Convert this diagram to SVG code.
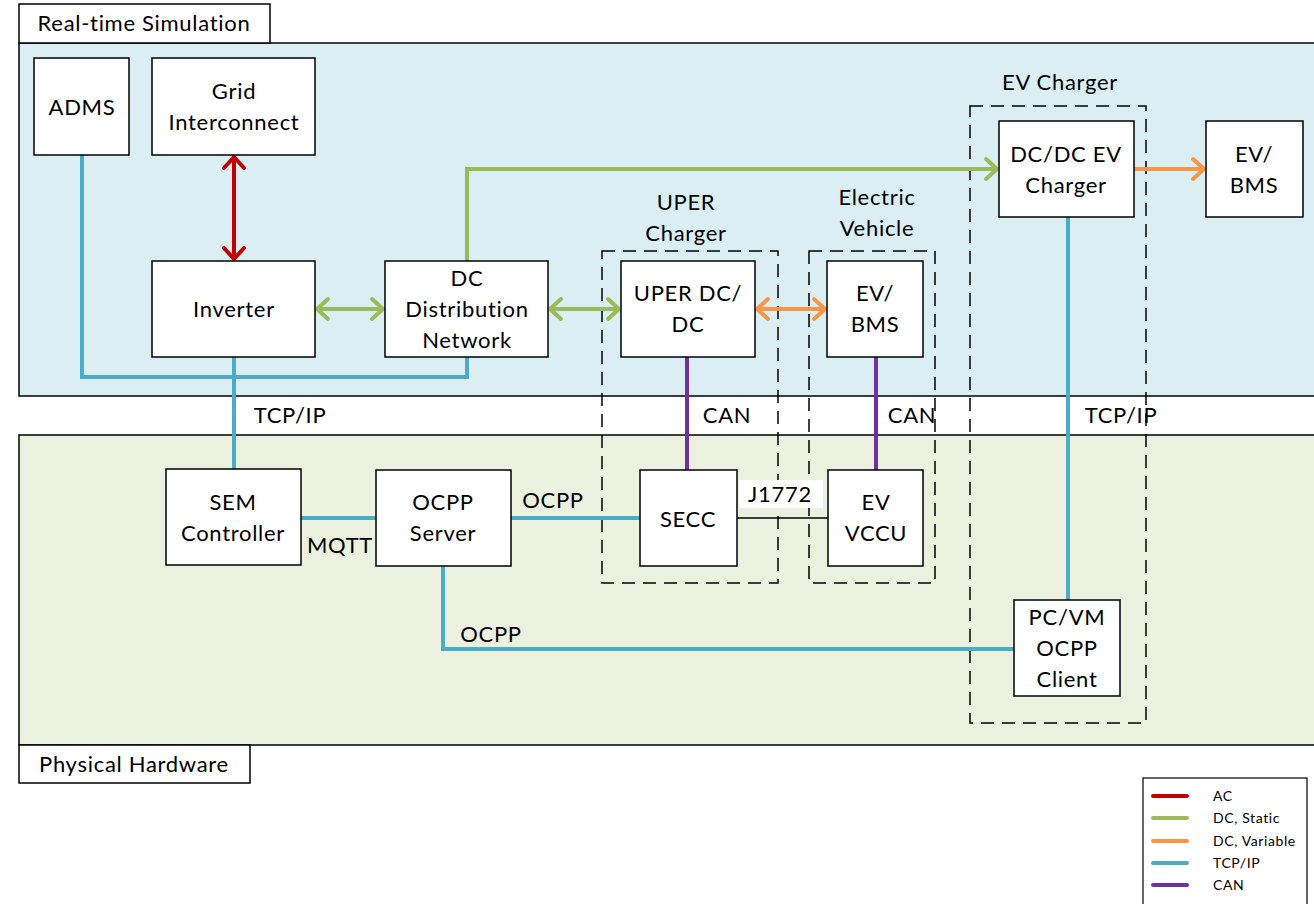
<svg xmlns="http://www.w3.org/2000/svg" width="1314" height="904" viewBox="0 0 1314 904">
<defs>
<style>
text{font-family:Lato,"Open Sans","Liberation Sans",sans-serif;font-size:22px;letter-spacing:0.7px;fill:#000;text-anchor:middle}
.box{fill:#fff;stroke:#000;stroke-width:1.5}
.grp{fill:none;stroke:#000;stroke-width:1.5;stroke-dasharray:13 8}
.ac{stroke:#C00000;stroke-width:4;fill:none}
.dcs{stroke:#9BBB59;stroke-width:4;fill:none}
.dcv{stroke:#F79646;stroke-width:4;fill:none}
.tcp{stroke:#4BACC6;stroke-width:4;fill:none}
.can{stroke:#7030A0;stroke-width:4;fill:none}
text.lg{font-size:14px;letter-spacing:0.6px;text-anchor:start}
</style>
<marker id="mr" markerUnits="userSpaceOnUse" markerWidth="30" markerHeight="30" viewBox="-15 -15 30 30" refX="0" refY="0" orient="auto-start-reverse"><path d="M-11,-10 L0,0 L-11,10" fill="none" stroke="#C00000" stroke-width="4" stroke-linecap="round" stroke-linejoin="round"/></marker>
<marker id="mg" markerUnits="userSpaceOnUse" markerWidth="30" markerHeight="30" viewBox="-15 -15 30 30" refX="0" refY="0" orient="auto-start-reverse"><path d="M-11,-10 L0,0 L-11,10" fill="none" stroke="#9BBB59" stroke-width="4" stroke-linecap="round" stroke-linejoin="round"/></marker>
<marker id="mo" markerUnits="userSpaceOnUse" markerWidth="30" markerHeight="30" viewBox="-15 -15 30 30" refX="0" refY="0" orient="auto-start-reverse"><path d="M-11,-10 L0,0 L-11,10" fill="none" stroke="#F79646" stroke-width="4" stroke-linecap="round" stroke-linejoin="round"/></marker>
</defs>
<rect width="1314" height="904" fill="#fff"/>
<!-- panels -->
<g id="panel-sim">
<rect x="19" y="43" width="1300" height="353" fill="#DAEEF3" stroke="#000" stroke-width="1.5"/>
<rect x="19" y="4" width="251" height="39" fill="#fff" stroke="#000" stroke-width="1.5"/>
<text x="144" y="31">Real-time Simulation</text>
</g>
<g id="panel-hw">
<rect x="19" y="435" width="1300" height="310" fill="#EBF1DE" stroke="#000" stroke-width="1.5"/>
<rect x="19" y="745" width="231" height="38" fill="#fff" stroke="#000" stroke-width="1.5"/>
<text x="134" y="772">Physical Hardware</text>
</g>
<!-- dashed groups -->
<g id="grp-uper"><rect class="grp" x="602" y="251" width="176" height="332"/><text x="686" y="210">UPER</text><text x="686" y="241">Charger</text></g>
<g id="grp-ev"><rect class="grp" x="809" y="251" width="126" height="332"/><text x="877" y="205">Electric</text><text x="877" y="236">Vehicle</text></g>
<g id="grp-evc"><rect class="grp" x="970" y="106" width="176" height="617"/><text x="1060" y="90">EV Charger</text></g>
<!-- connectors -->
<g id="connectors">
<line class="ac" x1="234" y1="157" x2="234" y2="259" marker-start="url(#mr)" marker-end="url(#mr)"/>
<line class="dcs" x1="317" y1="309" x2="383" y2="309" marker-start="url(#mg)" marker-end="url(#mg)"/>
<line class="dcs" x1="550" y1="309" x2="619" y2="309" marker-start="url(#mg)" marker-end="url(#mg)"/>
<polyline class="dcs" points="467,261 467,169 997,169" marker-end="url(#mg)"/>
<line class="dcv" x1="757" y1="309" x2="825" y2="309" marker-start="url(#mo)" marker-end="url(#mo)"/>
<line class="dcv" x1="1134" y1="169" x2="1204" y2="169" marker-end="url(#mo)"/>
<polyline class="tcp" points="82,155 82,377 467,377 467,357"/>
<line class="tcp" x1="234" y1="357" x2="234" y2="469"/>
<line class="tcp" x1="1068" y1="217" x2="1068" y2="600"/>
<line class="tcp" x1="301" y1="518" x2="376" y2="518"/>
<line class="tcp" x1="511" y1="518" x2="640" y2="518"/>
<polyline class="tcp" points="443,566 443,649 1014,649"/>
<line class="can" x1="687" y1="357" x2="687" y2="470"/>
<line class="can" x1="876" y1="357" x2="876" y2="470"/>
<line x1="737" y1="518" x2="828" y2="518" stroke="#000" stroke-width="1.5"/>
<rect x="739" y="480" width="84" height="28" fill="#fff"/>
<text x="780" y="502">J1772</text>
<text x="290" y="423">TCP/IP</text>
<text x="1121" y="423">TCP/IP</text>
<text x="727" y="423">CAN</text>
<text x="912" y="423">CAN</text>
<text x="340" y="553">MQTT</text>
<text x="553" y="508">OCPP</text>
<text x="491" y="642">OCPP</text>
</g>
<!-- nodes -->
<g id="n-adms"><rect class="box" x="34" y="58" width="95" height="97"/><text x="82" y="115">ADMS</text></g>
<g id="n-grid"><rect class="box" x="152" y="58" width="163" height="97"/><text x="234" y="99">Grid</text><text x="234" y="130">Interconnect</text></g>
<g id="n-inv"><rect class="box" x="152" y="261" width="163" height="96"/><text x="234" y="317">Inverter</text></g>
<g id="n-dcdn"><rect class="box" x="385" y="261" width="163" height="96"/><text x="467" y="286">DC</text><text x="467" y="317">Distribution</text><text x="467" y="348">Network</text></g>
<g id="n-uper"><rect class="box" x="621" y="261" width="134" height="96"/><text x="688" y="301">UPER DC/</text><text x="688" y="332">DC</text></g>
<g id="n-evbms1"><rect class="box" x="827" y="261" width="96" height="96"/><text x="875" y="301">EV/</text><text x="875" y="332">BMS</text></g>
<g id="n-dcdcev"><rect class="box" x="999" y="121" width="135" height="96"/><text x="1066" y="162">DC/DC EV</text><text x="1066" y="193">Charger</text></g>
<g id="n-evbms2"><rect class="box" x="1206" y="121" width="97" height="96"/><text x="1254" y="162">EV/</text><text x="1254" y="193">BMS</text></g>
<g id="n-sem"><rect class="box" x="166" y="469" width="135" height="96"/><text x="233" y="510">SEM</text><text x="233" y="541">Controller</text></g>
<g id="n-ocpp"><rect class="box" x="376" y="470" width="135" height="96"/><text x="443" y="510">OCPP</text><text x="443" y="541">Server</text></g>
<g id="n-secc"><rect class="box" x="640" y="470" width="97" height="96"/><text x="688" y="527">SECC</text></g>
<g id="n-vccu"><rect class="box" x="828" y="470" width="95" height="96"/><text x="876" y="510">EV</text><text x="876" y="541">VCCU</text></g>
<g id="n-pcvm"><rect class="box" x="1014" y="600" width="106" height="96"/><text x="1067" y="625">PC/VM</text><text x="1067" y="656">OCPP</text><text x="1067" y="687">Client</text></g>
<!-- legend -->
<g id="legend">
<rect x="1143" y="778" width="164" height="130" fill="#fff" stroke="#000" stroke-width="1.2"/>
<line x1="1153" y1="796" x2="1187" y2="796" stroke="#C00000" stroke-width="4" stroke-linecap="round"/>
<line x1="1153" y1="818" x2="1187" y2="818" stroke="#9BBB59" stroke-width="4" stroke-linecap="round"/>
<line x1="1153" y1="841" x2="1187" y2="841" stroke="#F79646" stroke-width="4" stroke-linecap="round"/>
<line x1="1153" y1="863" x2="1187" y2="863" stroke="#4BACC6" stroke-width="4" stroke-linecap="round"/>
<line x1="1153" y1="885" x2="1187" y2="885" stroke="#7030A0" stroke-width="4" stroke-linecap="round"/>
<text class="lg" x="1213" y="801">AC</text>
<text class="lg" x="1213" y="823">DC, Static</text>
<text class="lg" x="1213" y="846">DC, Variable</text>
<text class="lg" x="1213" y="868">TCP/IP</text>
<text class="lg" x="1213" y="890">CAN</text>
</g>
</svg>
